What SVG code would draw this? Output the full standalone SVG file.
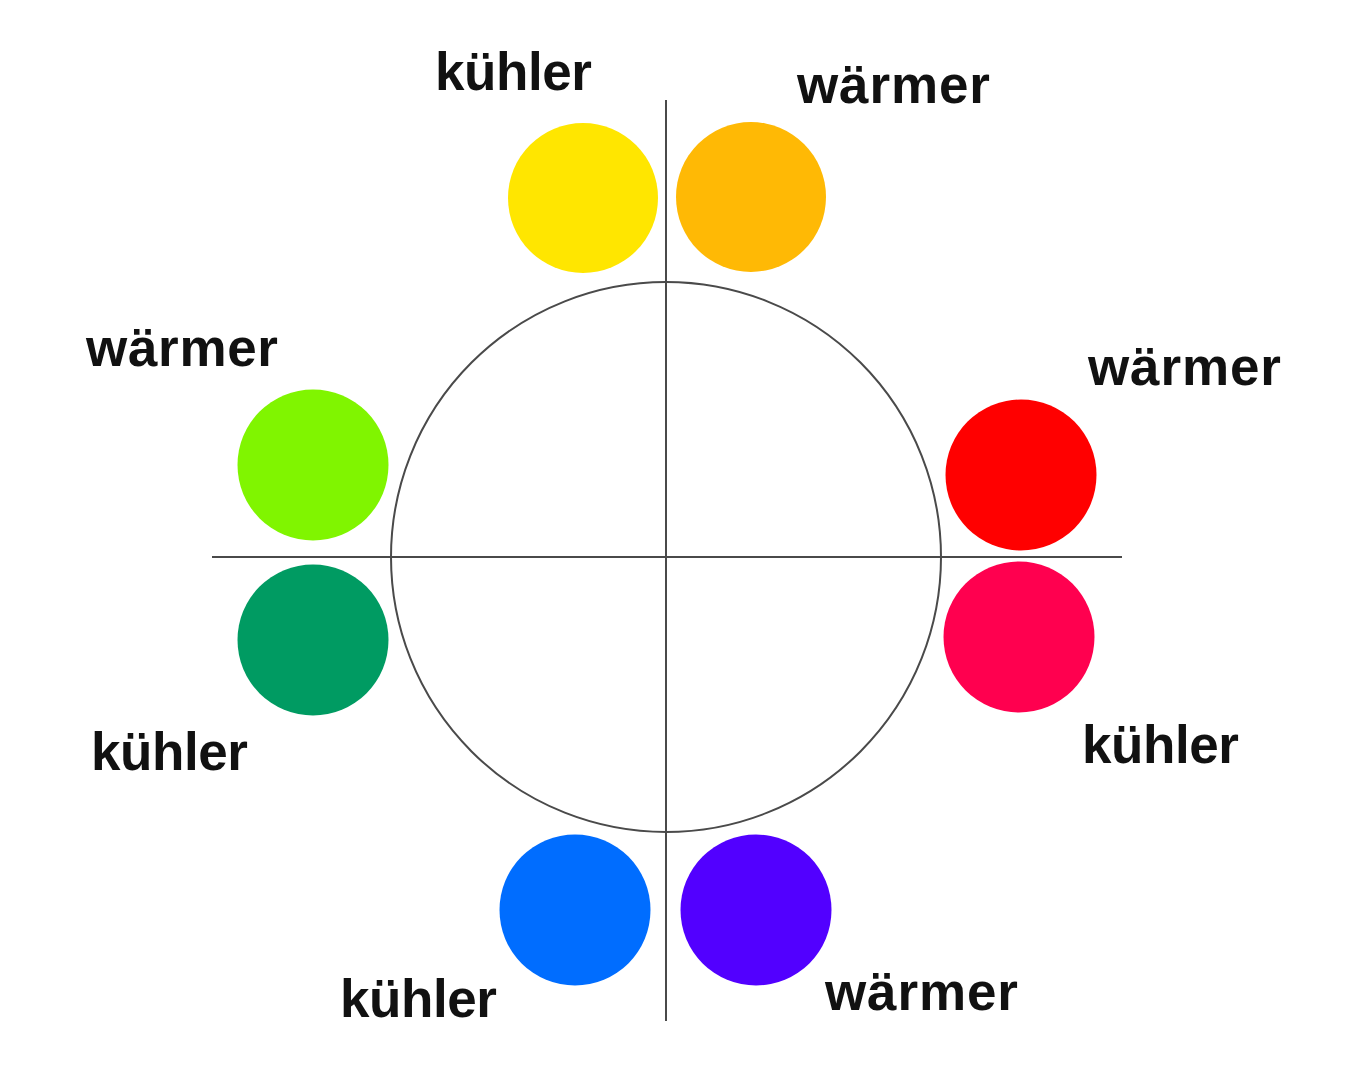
<svg xmlns="http://www.w3.org/2000/svg" width="1366" height="1078" viewBox="0 0 1366 1078">
<style>
.lbl{font-family:"Liberation Sans",Arial,sans-serif;font-weight:bold;font-size:53px;fill:#111}
.ln{stroke:#4a4a4a;stroke-width:2;fill:none}
</style>
<rect width="1366" height="1078" fill="#fff"/>
<g id="connectors">
<circle class="ln" cx="666" cy="557" r="275"/>
<line class="ln" x1="666" y1="100" x2="666" y2="1021"/>
<line class="ln" x1="212" y1="557" x2="1122" y2="557"/>
</g>
<g id="yellow"><circle cx="583" cy="198" r="75" fill="#FFE600"/><text class="lbl" x="435" y="90" textLength="157">kühler</text></g>
<g id="orange"><circle cx="751" cy="197" r="75" fill="#FFB905"/><text class="lbl" x="797" y="103" textLength="193">wärmer</text></g>
<g id="lime"><circle cx="313" cy="465" r="75.5" fill="#80F500"/><text class="lbl" x="86" y="366" textLength="192">wärmer</text></g>
<g id="darkgreen"><circle cx="313" cy="640" r="75.5" fill="#009B62"/><text class="lbl" x="91" y="770" textLength="157">kühler</text></g>
<g id="red"><circle cx="1021" cy="475" r="75.5" fill="#FF0000"/><text class="lbl" x="1088" y="385" textLength="193">wärmer</text></g>
<g id="pink"><circle cx="1019" cy="637" r="75.5" fill="#FF004F"/><text class="lbl" x="1082" y="763" textLength="157">kühler</text></g>
<g id="blue"><circle cx="575" cy="910" r="75.5" fill="#006DFF"/><text class="lbl" x="340" y="1017" textLength="157">kühler</text></g>
<g id="violet"><circle cx="756" cy="910" r="75.5" fill="#5200FF"/><text class="lbl" x="825" y="1010" textLength="193">wärmer</text></g>
</svg>
